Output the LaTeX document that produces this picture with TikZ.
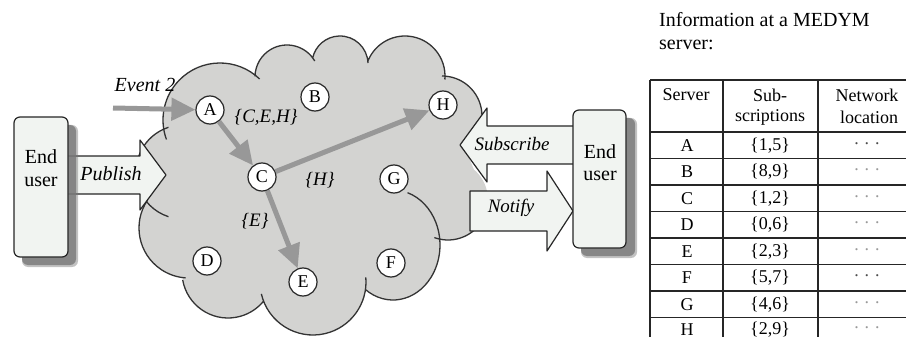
\documentclass[tikz,border=0pt]{standalone}
\usepackage{fontspec}
\setmainfont{Liberation Serif}
\usetikzlibrary{arrows.meta}

\definecolor{cloudgray}{RGB}{211,211,209}
\definecolor{paper}{RGB}{241,244,241}
\definecolor{flowgray}{RGB}{152,152,152}
\definecolor{shadowgray}{RGB}{120,120,120}

\begin{document}
\begin{tikzpicture}[x=1pt,y=-1pt,line join=round,
  cloudline/.style={draw=black!80,line width=1.3pt},
  server/.style={circle,draw=black!85,line width=1.2pt,fill=white,minimum size=28pt,inner sep=0pt,font=\fontsize{18}{18}\selectfont},
  flow/.style={draw=flowgray,line width=5pt,-{Triangle[length=24pt,width=22pt]}},
  lab/.style={inner sep=0pt,font=\fontsize{19}{19}\selectfont\itshape},
  blockarrow/.style={draw=black!85,line width=1.2pt,fill=paper},
  userbox/.style={draw=black!85,line width=1.2pt,fill=paper,rounded corners=6pt},
  usershadow/.style={fill=shadowgray,rounded corners=6pt},
  usertext/.style={inner sep=0pt,font=\fontsize{20}{20}\selectfont},
  tline/.style={draw=black!85,line width=1.5pt},
  cell/.style={inner sep=0pt,font=\fontsize{18}{18}\selectfont},
  dots/.style={inner sep=0pt,font=\fontsize{18}{18}\selectfont,text=black!45},
  title/.style={inner sep=0pt,anchor=west,font=\fontsize{20}{20}\selectfont}]

\useasboundingbox (0,0) rectangle (906,337);

% ---- cloud: filled body made of overlapping bumps ----
\fill[cloudgray]
  (220,120) circle[radius=57pt]
  (287,77) circle[radius=32pt]
  (340,64) circle[radius=28pt]
  (405,76) circle[radius=40pt]
  (442,116) circle[radius=40pt]
  (448,200) circle[radius=40pt]
  (393,245) ellipse[x radius=47pt,y radius=55pt]
  (313,282) circle[radius=53pt]
  (228,272) circle[radius=46pt]
  (189,228) circle[radius=50pt]
  (183,172) circle[radius=47pt];
\fill[cloudgray] (183,150) -- (220,110) -- (255,82) -- (287,80) -- (313,64)
  -- (340,70) -- (368,66) -- (405,80) -- (445,85) -- (462,140) -- (478,180)
  -- (470,225) -- (440,238) -- (393,290) -- (365,288) -- (313,300)
  -- (263,300) -- (228,300) -- (182,275) -- (160,215) -- (150,175) -- cycle;

% ---- cloud outline: one arc per bump, running a little past each cusp ----
\draw[cloudline]
  (220,120) ++(46:57pt) arc[start angle=46,end angle=200,radius=57pt]
  (287,77) ++(30:32pt) arc[start angle=30,end angle=179,radius=32pt]
  (340,64) ++(2:28pt) arc[start angle=2,end angle=168,radius=28pt]
  (405,76) ++(-5:40pt) arc[start angle=-5,end angle=158,radius=40pt]
  (442,116) ++(-40:40pt) arc[start angle=-40,end angle=90,radius=40pt]
  (448,200) ++(250:40pt) arc[start angle=250,end angle=372,radius=40pt]
  (393,245) ++(234:47pt and 55pt) arc[start angle=234,end angle=432,x radius=47pt,y radius=55pt]
  (313,282) ++(193:53pt) arc[start angle=193,end angle=365,radius=53pt]
  (228,272) ++(190:46pt) arc[start angle=190,end angle=320,radius=46pt]
  (189,228) ++(146:50pt) arc[start angle=146,end angle=266,radius=50pt]
  (183,172) ++(108:47pt) arc[start angle=108,end angle=252,radius=47pt];

% ---- servers ----
\node[server] (A) at (210,110) {A};
\node[server] (B) at (315,97) {B};
\node[server] (C) at (262,177) {C};
\node[server] (D) at (207,261) {D};
\node[server] (E) at (303,282) {E};
\node[server] (F) at (391,263) {F};
\node[server] (G) at (394,179) {G};
\node[server] (H) at (443,105) {H};

% ---- event routing ----
\coordinate (evstart) at (113,108);
\node[lab,font=\fontsize{20}{20}\selectfont\itshape] (evlab) at (145,85) {Event 2};
\draw[flow] (evstart) -- (A);
\draw[flow] (A) -- (C);
\draw[flow] (C) -- (H);
\draw[flow] (C) -- (E);
\node[lab] (lceh) at (266,117) {\{C,E,H\}};
\node[lab] (lh) at (320,180) {\{H\}};
\node[lab] (le) at (255,221) {\{E\}};

% ---- block arrows ----
\draw[blockarrow] (62,156) -- (140,156) -- (140,140) -- (166,175) -- (140,210)
  -- (140,194) -- (62,194) -- cycle;
\node[lab,font=\fontsize{20}{20}\selectfont\itshape] (pub) at (111,174) {Publish};
\draw[blockarrow] (580,126) -- (487,126) -- (487,108) -- (460,145) -- (487,182)
  -- (487,164) -- (580,164) -- cycle;
\node[lab] (sub) at (512,144) {Subscribe};
\draw[blockarrow] (470,191) -- (547,191) -- (547,171) -- (573,211) -- (547,251)
  -- (547,231) -- (470,231) -- cycle;
\node[lab] (ntf) at (511,208) {Notify};

% ---- end users, each with a soft drop shadow ----
\fill[usershadow,opacity=0.45] (22,125) rectangle (78,267);
\fill[usershadow,opacity=0.8] (22,125) rectangle (76,265);
\draw[userbox] (14,117) rectangle (68,257);
\node[usertext] (lend) at (41,157) {End};
\node[usertext] (luser) at (41,182) {user};
\fill[usershadow,opacity=0.45] (581,118) rectangle (637,258);
\fill[usershadow,opacity=0.8] (581,118) rectangle (635,256);
\draw[userbox] (573,110) rectangle (626,248);
\node[usertext] (rend) at (600,152) {End};
\node[usertext] (ruser) at (600,176) {user};

% ---- server table ----
\node[title] (t1) at (659,20) {Information at a MEDYM};
\node[title] (t2) at (659,45) {server:};
\draw[tline] (650,80) -- (920,80);
\foreach \yy in {132,158.5,185,211.5,238,264.5,291,317.5}
  \draw[tline] (650,\yy) -- (920,\yy);
\draw[tline] (650,80) -- (650,345);
\draw[tline] (723,80) -- (723,345);
\draw[tline] (818,80) -- (818,345);
\node[cell] (hserver) at (686,95) {Server};
\node[cell] (hsub1) at (770,95) {Sub-};
\node[cell] (hsub2) at (770,117) {scriptions};
\node[cell] (hnet1) at (867,95) {Network};
\node[cell] (hnet2) at (869,117) {location};
\foreach \name/\subs/\yy/\dk in {A/{1,5}/145.25/70,B/{8,9}/171.75/40,C/{1,2}/198.25/40,
    D/{0,6}/224.75/40,E/{2,3}/251.25/40,F/{5,7}/277.75/70,G/{4,6}/304.25/40,H/{2,9}/329.5/40}{
  \node[cell] (n\name) at (687,\yy) {\name};
  \node[cell] (s\name) at (770,\yy) {\{\subs\}};
  \node[dots,text=black!\dk] (l\name) at (867,\yy-2) {. . .};
}
\end{tikzpicture}
\end{document}
